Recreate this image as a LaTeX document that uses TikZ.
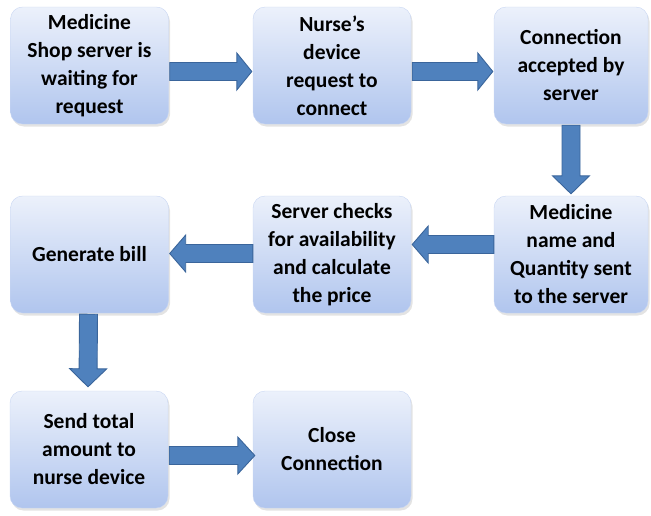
\documentclass[tikz,border=0pt]{standalone}
\usepackage{fontspec}
\setmainfont{Carlito}
\usetikzlibrary{calc,shadows}
\definecolor{arrowfill}{HTML}{4F81BD}
\definecolor{arrowline}{HTML}{3A659B}
\definecolor{boxtop}{HTML}{ECF1FB}
\definecolor{boxbot}{HTML}{B0C5EE}
\tikzset{
  flowbox/.style={rectangle, rounded corners=12pt, minimum width=158pt, minimum height=117pt,
    inner sep=0pt, top color=boxtop, bottom color=boxbot, draw=boxbot!70!white, line width=0.4pt,
    drop shadow={opacity=0.22, shadow xshift=1.5pt, shadow yshift=-2.5pt},
    align=center, font=\fontsize{21.5}{28}\selectfont\bfseries, text=black},
  blockarr/.style={fill=arrowfill, draw=arrowline, line width=0.9pt, line join=miter}
}
% block arrow from coordinate #1 to coordinate #2, head length #3
\newcommand\blockarrow[3]{%
  \coordinate (hb) at ($(#2)!#3!(#1)$);
  \draw[blockarr] ($(#1)!9pt!90:(#2)$) -- ($(hb)!9pt!90:(#2)$) -- ($(hb)!18.5pt!90:(#2)$) -- (#2)
    -- ($(hb)!18.5pt!-90:(#2)$) -- ($(hb)!9pt!-90:(#2)$) -- ($(#1)!9pt!-90:(#2)$) -- cycle;
}
\begin{document}
\begin{tikzpicture}[x=1pt,y=-1pt]
\useasboundingbox (0,0) rectangle (651,515);
\node[flowbox] (b1) at (89.5,65.5) {Medicine\\Shop server is\\waiting for\\request};
\node[flowbox] (b2) at (332,65.5) {Nurse’s\\device\\request to\\connect};
\node[flowbox, minimum width=154pt] (b3) at (571,65.5) {Connection\\accepted by\\server};
\node[flowbox] (b4) at (89.5,254.5) {Generate bill};
\node[flowbox] (b5) at (332,254.5) {Server checks\\for availability\\and calculate\\the price};
\node[flowbox, minimum width=154pt] (b6) at (571,254.5) {Medicine\\name and\\Quantity sent\\to the server};
\node[flowbox] (b7) at (89,449.5) {Send total\\amount to\\nurse device};
\node[flowbox] (b8) at (332,449.5) {Close\\Connection};

\coordinate (a1s) at ([yshift=-6pt,xshift=1pt]b1.east);
\coordinate (a1e) at ([yshift=-6pt,xshift=-1pt]b2.west);
\coordinate (a2s) at ([yshift=-6pt,xshift=1pt]b2.east);
\coordinate (a2e) at ([yshift=-6pt,xshift=-1pt]b3.west);
\coordinate (a3s) at ([yshift=-1pt]b3.south);
\coordinate (a3e) at ([yshift=2pt]b6.north);
\coordinate (a4s) at ([yshift=10pt]b6.west);
\coordinate (a4e) at ([yshift=10pt,xshift=1pt]b5.east);
\coordinate (a5s) at ([yshift=1pt]b5.west);
\coordinate (a5e) at ([yshift=1pt,xshift=1pt]b4.east);
\coordinate (a6s) at ([xshift=-1pt,yshift=-1pt]b4.south);
\coordinate (a6e) at ([xshift=-1pt,yshift=4pt]b7.north);
\coordinate (a7s) at ([yshift=-6pt,xshift=1pt]b7.east);
\coordinate (a7e) at ([yshift=-6pt,xshift=2pt]b8.west);

\blockarrow{a1s}{a1e}{15pt}
\blockarrow{a2s}{a2e}{15pt}
\blockarrow{a3s}{a3e}{18pt}
\blockarrow{a4s}{a4e}{16pt}
\blockarrow{a5s}{a5e}{16pt}
\blockarrow{a6s}{a6e}{18pt}
\blockarrow{a7s}{a7e}{17pt}
\end{tikzpicture}
\end{document}
